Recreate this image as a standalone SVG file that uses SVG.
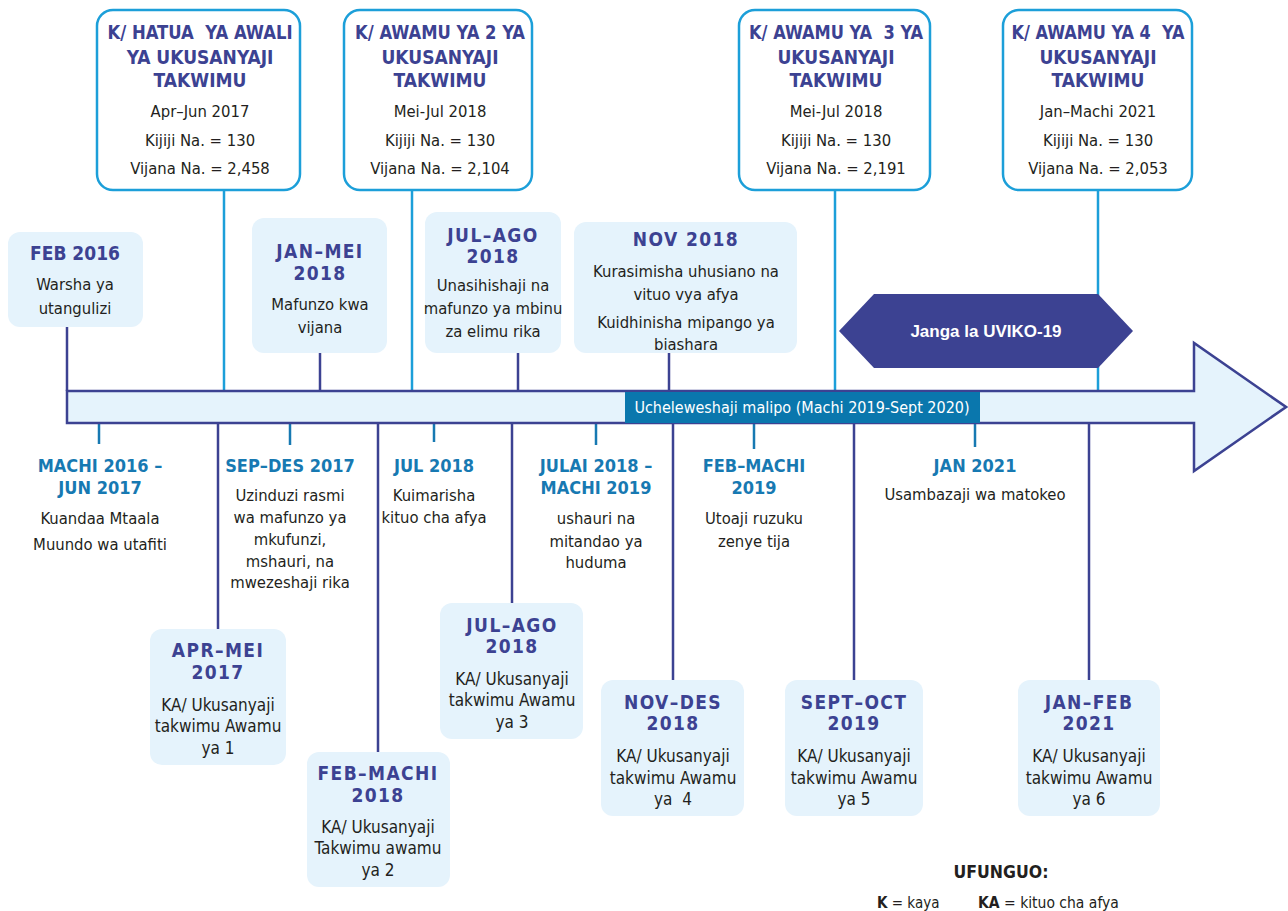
<svg xmlns="http://www.w3.org/2000/svg" width="1288" height="911" viewBox="0 0 1288 911">
<style>
text{font-family:"DejaVu Sans Condensed","Liberation Sans",sans-serif;font-stretch:condensed;text-anchor:middle;white-space:pre}
.tt{font-size:19px;font-weight:bold;fill:#3c4292}
.bd{font-size:16.5px;fill:#231f20}
.bx{font-size:17px;fill:#231f20}
.lt{font-size:19px;font-weight:bold;fill:#3c4292;letter-spacing:1.4px}
.ct{font-size:18px;font-weight:bold;fill:#1779b2}
.cbox{fill:#fff;stroke:#1c9fd9;stroke-width:2.5}
.lbox{fill:#e5f3fc}
.cl{stroke:#1c9fd9;stroke-width:2.5;fill:none}
.dl{stroke:#3c4292;stroke-width:2.5;fill:none}
.tl{stroke:#1779b2;stroke-width:2.5;fill:none}
</style>
<rect width="1288" height="911" fill="#fff"/>
<g id="connectors">
<line class="cl" x1="224" y1="190" x2="224" y2="391"/>
<line class="cl" x1="412" y1="190" x2="412" y2="391"/>
<line class="cl" x1="835" y1="190" x2="835" y2="391"/>
<line class="cl" x1="1098" y1="190" x2="1098" y2="391"/>
<line class="dl" x1="67" y1="327" x2="67" y2="391"/>
<line class="dl" x1="320" y1="353" x2="320" y2="391"/>
<line class="dl" x1="518" y1="353" x2="518" y2="391"/>
<line class="dl" x1="669" y1="353" x2="669" y2="391"/>
<line class="tl" x1="99" y1="423" x2="99" y2="444"/>
<line class="tl" x1="290" y1="423" x2="290" y2="445"/>
<line class="tl" x1="434" y1="423" x2="434" y2="442"/>
<line class="tl" x1="596" y1="423" x2="596" y2="445"/>
<line class="tl" x1="754" y1="423" x2="754" y2="449"/>
<line class="tl" x1="975" y1="423" x2="975" y2="447"/>
<line class="dl" x1="218" y1="423" x2="218" y2="629"/>
<line class="dl" x1="378" y1="423" x2="378" y2="752"/>
<line class="dl" x1="512" y1="423" x2="512" y2="603"/>
<line class="dl" x1="673" y1="423" x2="673" y2="680"/>
<line class="dl" x1="854" y1="423" x2="854" y2="680"/>
<line class="dl" x1="1089" y1="423" x2="1089" y2="680"/>
</g>
<g id="timeline">
<path d="M67,391 H1194 V343 L1286,407 L1194,471 V423 H67 Z" fill="#e5f3fc" stroke="#3c4292" stroke-width="2.5" stroke-linejoin="miter"/>
<rect x="625" y="392" width="355" height="31" fill="#0a77ad"/>
<text x="802" y="413" style="font-size:16px;fill:#fff">Ucheleweshaji malipo (Machi 2019-Sept 2020)</text>
</g>
<g id="covid">
<polygon points="839,331 874,294 1098,294 1133,331 1098,368 874,368" fill="#3c4292"/>
<text x="986" y="337" style="font-size:17px;font-weight:bold;fill:#fff;font-family:'Liberation Sans',sans-serif;font-stretch:normal">Janga la UVIKO-19</text>
</g>
<g id="k-awali">
<rect class="cbox" x="97" y="10" width="203" height="180" rx="16"/>
<text class="tt" x="200" y="39" textLength="185" lengthAdjust="spacingAndGlyphs">K/ HATUA  YA AWALI</text>
<text class="tt" x="200" y="64">YA UKUSANYAJI</text>
<text class="tt" x="200" y="87">TAKWIMU</text>
<text class="bd" x="200" y="117">Apr–Jun 2017</text>
<text class="bd" x="200" y="146">Kijiji Na. = 130</text>
<text class="bd" x="200" y="174">Vijana Na. = 2,458</text>
</g>
<g id="k-awamu2">
<rect class="cbox" x="344" y="10" width="188" height="180" rx="16"/>
<text class="tt" x="440" y="39" textLength="170" lengthAdjust="spacingAndGlyphs">K/ AWAMU YA 2 YA</text>
<text class="tt" x="440" y="64">UKUSANYAJI</text>
<text class="tt" x="440" y="87">TAKWIMU</text>
<text class="bd" x="440" y="117">Mei-Jul 2018</text>
<text class="bd" x="440" y="146">Kijiji Na. = 130</text>
<text class="bd" x="440" y="174">Vijana Na. = 2,104</text>
</g>
<g id="k-awamu3">
<rect class="cbox" x="739" y="10" width="191" height="180" rx="16"/>
<text class="tt" x="836" y="39" textLength="174" lengthAdjust="spacingAndGlyphs">K/ AWAMU YA  3 YA</text>
<text class="tt" x="836" y="64">UKUSANYAJI</text>
<text class="tt" x="836" y="87">TAKWIMU</text>
<text class="bd" x="836" y="117">Mei-Jul 2018</text>
<text class="bd" x="836" y="146">Kijiji Na. = 130</text>
<text class="bd" x="836" y="174">Vijana Na. = 2,191</text>
</g>
<g id="k-awamu4">
<rect class="cbox" x="1003" y="10" width="189" height="180" rx="16"/>
<text class="tt" x="1098" y="39" textLength="173" lengthAdjust="spacingAndGlyphs">K/ AWAMU YA 4  YA</text>
<text class="tt" x="1098" y="64">UKUSANYAJI</text>
<text class="tt" x="1098" y="87">TAKWIMU</text>
<text class="bd" x="1098" y="117">Jan–Machi 2021</text>
<text class="bd" x="1098" y="146">Kijiji Na. = 130</text>
<text class="bd" x="1098" y="174">Vijana Na. = 2,053</text>
</g>
<g id="feb2016">
<rect class="lbox" x="8" y="232" width="135" height="95" rx="12"/>
<text class="lt" x="75" y="260" style="letter-spacing:0">FEB 2016</text>
<text class="bd" x="75" y="290">Warsha ya</text>
<text class="bd" x="75" y="314">utangulizi</text>
</g>
<g id="janmei2018">
<rect class="lbox" x="252" y="218" width="135" height="135" rx="12"/>
<text class="lt" x="320" y="258">JAN–MEI</text>
<text class="lt" x="320" y="280">2018</text>
<text class="bd" x="320" y="310">Mafunzo kwa</text>
<text class="bd" x="320" y="333">vijana</text>
</g>
<g id="julago2018-top">
<rect class="lbox" x="425" y="212" width="136" height="141" rx="12"/>
<text class="lt" x="493" y="242">JUL–AGO</text>
<text class="lt" x="493" y="263">2018</text>
<text class="bd" x="493" y="291">Unasihishaji na</text>
<text class="bd" x="493" y="314">mafunzo ya mbinu</text>
<text class="bd" x="493" y="337">za elimu rika</text>
</g>
<g id="nov2018">
<rect class="lbox" x="574" y="222" width="223" height="131" rx="12"/>
<text class="lt" x="686" y="246">NOV 2018</text>
<text class="bd" x="686" y="277">Kurasimisha uhusiano na</text>
<text class="bd" x="686" y="300">vituo vya afya</text>
<text class="bd" x="686" y="328">Kuidhinisha mipango ya</text>
<text class="bd" x="686" y="350">biashara</text>
</g>
<g id="machi2016">
<text class="ct" x="100" y="472">MACHI 2016 –</text>
<text class="ct" x="100" y="494">JUN 2017</text>
<text class="bd" x="100" y="524">Kuandaa Mtaala</text>
<text class="bd" x="100" y="550">Muundo wa utafiti</text>
</g>
<g id="sepdes2017">
<text class="ct" x="290" y="472">SEP–DES 2017</text>
<text class="bd" x="290" y="501">Uzinduzi rasmi</text>
<text class="bd" x="290" y="523">wa mafunzo ya</text>
<text class="bd" x="290" y="545">mkufunzi,</text>
<text class="bd" x="290" y="567">mshauri, na</text>
<text class="bd" x="290" y="588">mwezeshaji rika</text>
</g>
<g id="jul2018">
<text class="ct" x="434" y="472">JUL 2018</text>
<text class="bd" x="434" y="501">Kuimarisha</text>
<text class="bd" x="434" y="523">kituo cha afya</text>
</g>
<g id="julai2018">
<text class="ct" x="596" y="472">JULAI 2018 –</text>
<text class="ct" x="596" y="494">MACHI 2019</text>
<text class="bd" x="596" y="524">ushauri na</text>
<text class="bd" x="596" y="547">mitandao ya</text>
<text class="bd" x="596" y="568">huduma</text>
</g>
<g id="febmachi2019">
<text class="ct" x="754" y="472">FEB–MACHI</text>
<text class="ct" x="754" y="494">2019</text>
<text class="bd" x="754" y="524">Utoaji ruzuku</text>
<text class="bd" x="754" y="547">zenye tija</text>
</g>
<g id="jan2021">
<text class="ct" x="975" y="472">JAN 2021</text>
<text class="bd" x="975" y="500">Usambazaji wa matokeo</text>
</g>
<g id="aprmei2017">
<rect class="lbox" x="150" y="629" width="136" height="136" rx="12"/>
<text class="lt" x="218" y="657">APR–MEI</text>
<text class="lt" x="218" y="679">2017</text>
<text class="bx" x="218" y="711">KA/ Ukusanyaji</text>
<text class="bx" x="218" y="732">takwimu Awamu</text>
<text class="bx" x="218" y="754">ya 1</text>
</g>
<g id="febmachi2018">
<rect class="lbox" x="307" y="752" width="143" height="135" rx="12"/>
<text class="lt" x="378" y="780">FEB–MACHI</text>
<text class="lt" x="378" y="802">2018</text>
<text class="bx" x="378" y="833">KA/ Ukusanyaji</text>
<text class="bx" x="378" y="854">Takwimu awamu</text>
<text class="bx" x="378" y="876">ya 2</text>
</g>
<g id="julago2018-bottom">
<rect class="lbox" x="440" y="603" width="143" height="136" rx="12"/>
<text class="lt" x="512" y="632">JUL–AGO</text>
<text class="lt" x="512" y="653">2018</text>
<text class="bx" x="512" y="685">KA/ Ukusanyaji</text>
<text class="bx" x="512" y="706">takwimu Awamu</text>
<text class="bx" x="512" y="728">ya 3</text>
</g>
<g id="novdes2018">
<rect class="lbox" x="601" y="680" width="143" height="136" rx="12"/>
<text class="lt" x="673" y="709">NOV–DES</text>
<text class="lt" x="673" y="730">2018</text>
<text class="bx" x="673" y="762">KA/ Ukusanyaji</text>
<text class="bx" x="673" y="784">takwimu Awamu</text>
<text class="bx" x="673" y="805">ya  4</text>
</g>
<g id="septoct2019">
<rect class="lbox" x="785" y="680" width="138" height="136" rx="12"/>
<text class="lt" x="854" y="709">SEPT–OCT</text>
<text class="lt" x="854" y="730">2019</text>
<text class="bx" x="854" y="762">KA/ Ukusanyaji</text>
<text class="bx" x="854" y="784">takwimu Awamu</text>
<text class="bx" x="854" y="805">ya 5</text>
</g>
<g id="janfeb2021">
<rect class="lbox" x="1018" y="680" width="142" height="136" rx="12"/>
<text class="lt" x="1089" y="709">JAN–FEB</text>
<text class="lt" x="1089" y="730">2021</text>
<text class="bx" x="1089" y="762">KA/ Ukusanyaji</text>
<text class="bx" x="1089" y="784">takwimu Awamu</text>
<text class="bx" x="1089" y="805">ya 6</text>
</g>
<g id="legend">
<text x="1001" y="878" style="font-size:17.5px;font-weight:bold;fill:#231f20">UFUNGUO:</text>
<text x="877" y="908" style="font-size:15px;fill:#231f20;text-anchor:start"><tspan font-weight="bold">K</tspan> = kaya</text>
<text x="978" y="908" style="font-size:15.5px;fill:#231f20;text-anchor:start"><tspan font-weight="bold">KA</tspan> = kituo cha afya</text>
</g>
</svg>
